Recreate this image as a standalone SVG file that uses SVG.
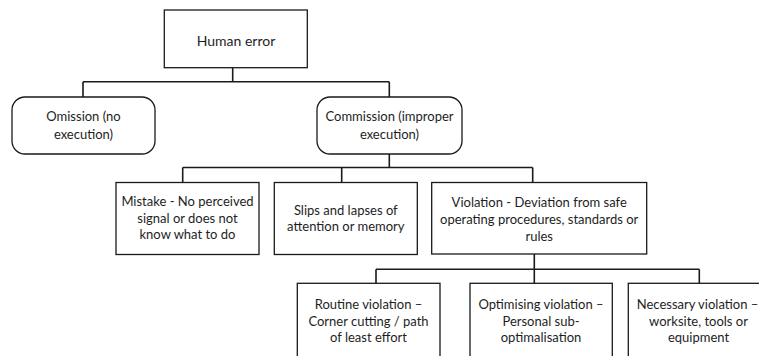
<svg xmlns="http://www.w3.org/2000/svg" width="759" height="356" viewBox="0 0 759 356">
  <style>
    .box { fill: #ffffff; stroke: #1a1a1a; stroke-width: 1.3; }
    .link { fill: none; stroke: #1a1a1a; stroke-width: 1.6; }
    text { font-family: Lato, "Open Sans", "Liberation Sans", sans-serif; font-size: 13px; fill: #1e1e1e; text-anchor: middle; }
    .title { font-size: 14px; }
  </style>
  <rect width="759" height="356" fill="#ffffff"/>

  <g id="connectors">
    <!-- Human error to level 2 -->
    <path class="link" d="M232.7 67.7 V81.7 M83 81.7 H389.3 M83 81.7 V97 M389.3 81.7 V97"/>
    <!-- Commission to its three kinds -->
    <path class="link" d="M389.3 154 V167.5 M182.7 167.5 H532.7 M182.7 167.5 V182.5 M341.7 167.5 V182.5 M532.7 167.5 V182.5"/>
    <!-- Violation to its three kinds -->
    <path class="link" d="M534.3 254 V269.3 M376 269.3 H699.3 M376 269.3 V283.3 M534.3 269.3 V283.3 M699.3 269.3 V283.3"/>
  </g>

  <g id="human-error">
    <rect class="box" x="164.3" y="10" width="143" height="57.7"/>
    <text class="title" x="236" y="46">Human error</text>
  </g>

  <g id="omission">
    <rect class="box" x="12" y="97" width="143" height="57" rx="13" ry="13"/>
    <text x="83.5" y="121">Omission (no</text>
    <text x="83.5" y="139">execution)</text>
  </g>

  <g id="commission">
    <rect class="box" x="317" y="97" width="145" height="57" rx="13" ry="13"/>
    <text x="389.5" y="121">Commission (improper</text>
    <text x="389.5" y="139">execution)</text>
  </g>

  <g id="mistake">
    <rect class="box" x="116" y="182.5" width="143" height="72"/>
    <text x="187.5" y="206">Mistake - No perceived</text>
    <text x="187.5" y="222.5">signal or does not</text>
    <text x="187.5" y="239">know what to do</text>
  </g>

  <g id="slips">
    <rect class="box" x="274.3" y="182.5" width="143" height="72"/>
    <text x="345.8" y="214.5">Slips and lapses of</text>
    <text x="345.8" y="231">attention or memory</text>
  </g>

  <g id="violation">
    <rect class="box" x="431.7" y="182.5" width="215" height="71.5"/>
    <text x="539.2" y="207.3">Violation - Deviation from safe</text>
    <text x="539.2" y="224">operating procedures, standards or</text>
    <text x="539.2" y="240.5">rules</text>
  </g>

  <g id="routine-violation">
    <rect class="box" x="297.3" y="283.3" width="142.7" height="90"/>
    <text x="368.5" y="309">Routine violation –</text>
    <text x="368.5" y="325.5">Corner cutting / path</text>
    <text x="368.5" y="341.5">of least effort</text>
  </g>

  <g id="optimising-violation">
    <rect class="box" x="470" y="283.3" width="142.3" height="90"/>
    <text x="541" y="309">Optimising violation –</text>
    <text x="541" y="325.5">Personal sub-</text>
    <text x="541" y="341.5">optimalisation</text>
  </g>

  <g id="necessary-violation">
    <rect class="box" x="628.3" y="283.3" width="143" height="90"/>
    <text x="697.5" y="309">Necessary violation –</text>
    <text x="698.5" y="325.5">worksite, tools or</text>
    <text x="698.5" y="341.5">equipment</text>
  </g>
</svg>
